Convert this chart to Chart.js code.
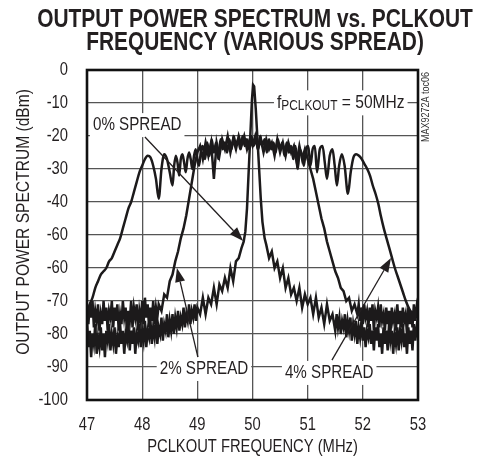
<!DOCTYPE html>
<html>
<head>
<meta charset="utf-8">
<script src="https://cdn.jsdelivr.net/npm/chart.js@4.4.1/dist/chart.umd.min.js"></script>
<style>
html, body { margin: 0; padding: 0; background: #fff; overflow: hidden; }
#wrap { width: 484px; height: 463px; }
</style>
</head>
<body>
<div id="wrap"><canvas id="spectrum" width="484" height="463"></canvas></div>
<script>
const FONT = "'Liberation Sans', Arial, sans-serif";
const NARROW = 0.82; // the datasheet uses a narrow face; squeeze Arial-metric text to match
const INK = '#231f20';

// tick labels as printed on the original (the -50 line is labelled -60 there)
const xTickLabels = ['47', '48', '49', '50', '51', '52', '53'];
const yTickLabels = ['-100', '-90', '-80', '-70', '-60', '-60', '-40', '-30', '-20', '-10', '0'];

// 0% spread : single tone at 50MHz
const freq0 = [
  47.000, 47.025, 47.050, 47.075, 47.100, 47.125, 47.150, 47.175, 47.200, 47.225,
  47.250, 47.275, 47.300, 47.325, 47.350, 47.375, 47.400, 47.425, 47.450, 47.475,
  47.500, 47.525, 47.550, 47.575, 47.600, 47.625, 47.650, 47.675, 47.700, 47.725,
  47.750, 47.775, 47.800, 47.825, 47.850, 47.875, 47.900, 47.925, 47.950, 47.975,
  48.000, 48.025, 48.050, 48.075, 48.100, 48.125, 48.150, 48.175, 48.200, 48.225,
  48.250, 48.275, 48.300, 48.325, 48.350, 48.375, 48.400, 48.425, 48.450, 48.475,
  48.500, 48.525, 48.550, 48.575, 48.600, 48.625, 48.650, 48.675, 48.700, 48.725,
  48.750, 48.775, 48.800, 48.825, 48.850, 48.875, 48.900, 48.925, 48.950, 48.975,
  49.000,
  49.05, 49.10, 49.15, 49.20, 49.25, 49.30, 49.35, 49.40, 49.45, 49.50,
  49.55, 49.60, 49.65, 49.70, 49.75, 49.80,
  49.84, 49.87, 49.90, 49.93, 49.96, 49.99, 50.01, 50.03, 50.06, 50.09, 50.12, 50.15, 50.18, 50.22,
  50.25, 50.30, 50.35, 50.40, 50.45, 50.50, 50.55, 50.60, 50.65, 50.70,
  50.75, 50.80, 50.85, 50.90, 50.95, 51.00, 51.05, 51.10, 51.15, 51.20,
  51.25, 51.30, 51.35, 51.40, 51.45, 51.50,
  51.525, 51.550, 51.575, 51.600, 51.625, 51.650, 51.675, 51.700, 51.725, 51.750,
  51.775, 51.800, 51.825, 51.850, 51.875, 51.900, 51.925, 51.950, 51.975, 52.000,
  52.025, 52.050, 52.075, 52.100, 52.125, 52.150, 52.175, 52.200, 52.225, 52.250,
  52.275, 52.300, 52.325, 52.350, 52.375, 52.400, 52.425, 52.450, 52.475, 52.500,
  52.525, 52.550, 52.575, 52.600, 52.625, 52.650, 52.675, 52.700, 52.725, 52.750,
  52.775, 52.800, 52.825, 52.850, 52.875, 52.900, 52.925, 52.950, 52.975, 53.000
];
const level0 = [
  -76, -84, -79, -87, -80, -83, -77, -86, -81, -84,
  -78, -85, -80, -87, -79, -82, -77, -85, -80, -83,
  -78, -86, -81, -84, -77, -83, -79, -86, -80, -82,
  -77, -85, -79, -83, -78, -86, -80, -82, -77, -84,
  -79, -82, -76, -84, -79, -81, -76, -83, -78, -81,
  -75, -83, -78, -80, -75, -82, -77, -79, -74, -81,
  -76, -79, -74, -80, -75, -78, -73, -79, -75, -77,
  -72, -78, -74, -76, -71, -77, -73, -75, -71, -76,
  -72,
  -74, -69, -74, -69, -71, -66, -71, -65, -67, -63,
  -66, -60, -64, -58, -57, -54,
  -52, -49, -42, -31, -20, -9, -4.5, -5, -12, -21, -30, -39, -46, -51,
  -53, -57, -55, -60, -58, -63, -60, -66, -63, -68,
  -66, -70, -66, -72, -68, -71, -69, -74, -69, -75,
  -72, -77, -71, -76, -74, -79,
  -74, -78, -75, -80, -76, -78, -74, -81, -76, -79,
  -75, -82, -77, -80, -76, -83, -78, -81, -76, -82,
  -78, -84, -79, -81, -77, -83, -79, -85, -78, -82,
  -77, -84, -80, -86, -78, -83, -79, -85, -77, -82,
  -79, -86, -80, -83, -78, -85, -79, -82, -77, -84,
  -80, -86, -78, -83, -79, -85, -77, -82, -78, -81
];

// 2% spread
const freq2 = [
  47.000, 47.025, 47.050, 47.075, 47.100, 47.125, 47.150, 47.175, 47.200, 47.225,
  47.250, 47.275, 47.300, 47.325, 47.350, 47.375, 47.400, 47.425, 47.450, 47.475,
  47.500, 47.525, 47.550, 47.575, 47.600, 47.625, 47.650, 47.675, 47.700, 47.725,
  47.750, 47.775, 47.800, 47.825, 47.850, 47.875, 47.900, 47.925, 47.950, 47.975,
  48.000, 48.025, 48.050, 48.075, 48.100, 48.125, 48.150, 48.175, 48.200, 48.225,
  48.250, 48.275, 48.300,
  48.35, 48.40, 48.45, 48.50, 48.55, 48.60, 48.65, 48.70, 48.75, 48.80, 48.85, 48.90, 48.95,
  49.00, 49.05, 49.10, 49.15, 49.20, 49.25, 49.30, 49.35, 49.40, 49.45,
  49.50, 49.55, 49.60, 49.65, 49.70, 49.75, 49.80, 49.85, 49.90, 49.95,
  50.00, 50.05, 50.10, 50.15, 50.20, 50.25, 50.30, 50.35, 50.40, 50.45,
  50.50, 50.55, 50.60, 50.65, 50.70, 50.75, 50.80, 50.85, 50.90, 50.95,
  51.00,
  51.05, 51.10, 51.15, 51.20, 51.25, 51.30, 51.35, 51.40, 51.45, 51.50,
  51.55, 51.60, 51.65, 51.70, 51.75, 51.80, 51.85,
  51.900, 51.925, 51.950, 51.975, 52.000, 52.025, 52.050, 52.075, 52.100, 52.125,
  52.150, 52.175, 52.200, 52.225, 52.250, 52.275, 52.300, 52.325, 52.350, 52.375,
  52.400, 52.425, 52.450, 52.475, 52.500, 52.525, 52.550, 52.575, 52.600, 52.625,
  52.650, 52.675, 52.700, 52.725, 52.750, 52.775, 52.800, 52.825, 52.850, 52.875,
  52.900, 52.925, 52.950, 52.975, 53.000
];
const level2 = [
  -72, -77, -71, -75, -70, -78, -73, -76, -71, -79,
  -74, -77, -70, -76, -72, -79, -73, -75, -70, -78,
  -72, -76, -71, -79, -74, -77, -70, -75, -72, -80,
  -73, -76, -70, -78, -72, -75, -71, -79, -73, -76,
  -70, -77, -69, -75, -71, -78, -72, -76, -70, -77,
  -72, -75, -71,
  -73, -68, -69, -64, -62, -58, -55, -51, -48, -44, -39, -34, -29,
  -25, -23, -27, -22, -26, -22, -33, -22, -26, -21,
  -24, -20, -25, -21, -24, -20, -23, -20, -24, -21,
  -23, -20, -24, -21, -25, -21, -24, -22, -26, -21,
  -25, -22, -26, -22, -25, -23, -28, -23, -27, -24,
  -27,
  -30, -33, -37, -41, -45, -48, -52, -55, -58, -61,
  -63, -66, -67, -70, -69, -73, -71,
  -74, -71, -76, -72, -77, -71, -75, -73, -78, -72,
  -76, -71, -79, -73, -75, -72, -78, -71, -76, -74,
  -79, -72, -77, -73, -80, -72, -76, -74, -79, -71,
  -77, -73, -78, -72, -76, -74, -80, -72, -77, -73,
  -78, -71, -76, -72, -75
];

// 4% spread
const freq4 = [
  47.00, 47.05, 47.10, 47.15, 47.20, 47.25, 47.30, 47.35, 47.40, 47.45,
  47.50, 47.55, 47.60, 47.65, 47.70, 47.75, 47.80, 47.85, 47.90, 47.95,
  48.00, 48.05, 48.10, 48.15, 48.20, 48.25, 48.30, 48.35, 48.40, 48.45,
  48.50, 48.55, 48.58, 48.61, 48.64, 48.67, 48.70, 48.73, 48.76, 48.79,
  48.82, 48.85, 48.88, 48.91, 48.94, 48.97, 49.00, 49.03, 49.07, 49.10,
  49.14, 49.18, 49.22, 49.26, 49.30, 49.34, 49.38, 49.42, 49.46, 49.50,
  49.54, 49.58, 49.62, 49.66, 49.70, 49.74, 49.78, 49.82, 49.86, 49.90,
  49.94, 49.98, 50.02, 50.06, 50.10, 50.14, 50.18, 50.22, 50.26, 50.30,
  50.34, 50.38, 50.42, 50.46, 50.50, 50.54, 50.58, 50.62, 50.66, 50.70,
  50.74, 50.78, 50.82, 50.86, 50.90, 50.93, 50.97, 51.01, 51.05, 51.09,
  51.13, 51.17, 51.22, 51.27, 51.31, 51.35, 51.40, 51.45, 51.49, 51.53,
  51.57, 51.62, 51.67, 51.73, 51.78, 51.83, 51.88, 51.93, 51.98, 52.03,
  52.08, 52.13, 52.18, 52.23, 52.28, 52.33, 52.38, 52.43, 52.48, 52.53,
  52.58, 52.63, 52.68, 52.73, 52.78, 52.83, 52.88, 52.93, 53.00
];
const level4 = [
  -74, -71, -69, -66, -64, -62, -61, -60, -58, -57,
  -55, -53, -51, -48, -45, -42, -40, -37, -34, -31,
  -29, -27, -26, -26.5, -29, -33, -39, -30, -25.5, -27,
  -31, -35, -29, -26, -28, -32, -27, -25.5, -28, -31,
  -27, -25, -27, -30, -26, -24, -27, -29, -24, -23,
  -27, -22, -26, -21, -25, -22, -27, -21, -24, -22,
  -25, -21, -24, -20, -23, -21, -24, -20, -23, -21,
  -24, -20, -23, -21, -24, -20, -23, -21, -25, -21,
  -24, -22, -25, -21, -24, -22, -26, -22, -25, -23,
  -27, -23, -30, -24, -26, -29, -24, -23, -29, -24,
  -23, -31, -24, -23, -28, -33, -26, -24, -29, -35,
  -29, -25.5, -29, -37.5, -31, -26.5, -25.5, -26, -27, -28.5,
  -30, -32, -35, -37.5, -40.5, -44.5, -48, -51, -54, -57,
  -60, -62.5, -65, -67.5, -70, -72, -73.5, -74.5, -75
];

// callouts, in data units (MHz, dBm)
const notes = [
  { text: '0% SPREAD', x: 47.91, y: -16.7, from: [48.05, -20.3], to: [49.83, -51.8] },
  { text: '2% SPREAD', x: 49.12, y: -90.6, from: [49.01, -87.0], to: [48.63, -60.0] },
  { text: '4% SPREAD', x: 51.39, y: -91.8, from: [51.44, -87.9], to: [52.51, -57.0] }
];
const toneNote = { main: 'f', sub: 'PCLKOUT', rest: ' = 50MHz', x: 51.6, y: -9.8 };

function toPoints(fs, ls) {
  return fs.map((f, i) => ({ x: f, y: ls[i] }));
}

function toneParts(ctx) {
  ctx.font = `19px ${FONT}`;
  const wf = ctx.measureText(toneNote.main).width;
  const wr = ctx.measureText(toneNote.rest).width;
  ctx.font = `14.5px ${FONT}`;
  const ws = ctx.measureText(toneNote.sub).width;
  return { wf, ws, wr, total: wf + ws + wr };
}

function arrow(ctx, x0, y0, x1, y1) {
  const ang = Math.atan2(y1 - y0, x1 - x0);
  const len = 14, half = 5;
  const bx = x1 - len * Math.cos(ang), by = y1 - len * Math.sin(ang);
  ctx.beginPath();
  ctx.moveTo(x0, y0);
  ctx.lineTo(bx, by);
  ctx.stroke();
  ctx.beginPath();
  ctx.moveTo(x1, y1);
  ctx.lineTo(bx + half * Math.sin(ang), by - half * Math.cos(ang));
  ctx.lineTo(bx - half * Math.sin(ang), by + half * Math.cos(ang));
  ctx.closePath();
  ctx.fill();
}

// every fillText / measureText on this chart goes through a horizontal squeeze
const narrowTextPlugin = {
  id: 'narrowText',
  beforeInit(chart) {
    const ctx = chart.ctx;
    const fill = ctx.fillText.bind(ctx);
    const measure = ctx.measureText.bind(ctx);
    ctx.fillText = (text, x, y) => {
      ctx.save();
      ctx.translate(x, y);
      ctx.scale(NARROW, 1);
      fill(text, 0, 0);
      ctx.restore();
    };
    ctx.measureText = text => {
      const m = measure(text);
      return {
        width: m.width * NARROW,
        actualBoundingBoxAscent: m.actualBoundingBoxAscent,
        actualBoundingBoxDescent: m.actualBoundingBoxDescent
      };
    };
  }
};

const decorPlugin = {
  id: 'decor',
  beforeDatasetsDraw(chart) {
    // white boxes break the grid behind the callout texts
    const { ctx, scales: { x, y } } = chart;
    ctx.save();
    ctx.fillStyle = '#fff';
    ctx.font = `18.5px ${FONT}`;
    notes.forEach(n => {
      const w = ctx.measureText(n.text).width + 6;
      ctx.fillRect(x.getPixelForValue(n.x) - w / 2, y.getPixelForValue(n.y) - 12, w, 24);
    });
    const p = toneParts(ctx);
    ctx.fillRect(x.getPixelForValue(toneNote.x) - p.total / 2 - 3, y.getPixelForValue(toneNote.y) - 12, p.total + 6, 25);
    ctx.restore();
  },
  afterDatasetsDraw(chart) {
    const { ctx, chartArea: a, scales: { x, y } } = chart;
    ctx.save();
    // frame
    ctx.strokeStyle = '#111';
    ctx.lineWidth = 2.6;
    ctx.strokeRect(a.left, a.top, a.right - a.left, a.bottom - a.top);

    // callouts
    ctx.fillStyle = INK;
    ctx.strokeStyle = INK;
    ctx.lineWidth = 1.3;
    ctx.textAlign = 'center';
    ctx.textBaseline = 'middle';
    ctx.font = `18.5px ${FONT}`;
    notes.forEach(n => {
      ctx.fillText(n.text, x.getPixelForValue(n.x), y.getPixelForValue(n.y));
      arrow(ctx, x.getPixelForValue(n.from[0]), y.getPixelForValue(n.from[1]),
        x.getPixelForValue(n.to[0]), y.getPixelForValue(n.to[1]));
    });

    // f(PCLKOUT) = 50MHz
    const p = toneParts(ctx);
    let tx = x.getPixelForValue(toneNote.x) - p.total / 2;
    const ty = y.getPixelForValue(toneNote.y);
    ctx.textAlign = 'left';
    ctx.font = `19px ${FONT}`;
    ctx.fillText(toneNote.main, tx, ty);
    tx += p.wf;
    ctx.font = `14.5px ${FONT}`;
    ctx.fillText(toneNote.sub, tx, ty + 4);
    tx += p.ws;
    ctx.font = `19px ${FONT}`;
    ctx.fillText(toneNote.rest, tx, ty);
    ctx.restore();
  },
  afterDraw(chart) {
    const { ctx } = chart;
    ctx.save();
    ctx.fillStyle = INK;
    ctx.textAlign = 'center';
    ctx.textBaseline = 'middle';
    ctx.font = `bold 25.5px ${FONT}`;
    ctx.fillText('OUTPUT POWER SPECTRUM vs. PCLKOUT', 255, 20);
    ctx.fillText('FREQUENCY (VARIOUS SPREAD)', 255, 43);

    ctx.save();
    ctx.translate(24, 222);
    ctx.rotate(-Math.PI / 2);
    ctx.font = `19px ${FONT}`;
    ctx.fillText('OUTPUT POWER SPECTRUM (dBm)', 0, 0);
    ctx.restore();

    ctx.save();
    ctx.translate(426, 107);
    ctx.rotate(-Math.PI / 2);
    ctx.fillStyle = '#333';
    ctx.font = `11px ${FONT}`;
    ctx.fillText('MAX9272A toc06', 0, 0);
    ctx.restore();
    ctx.restore();
  }
};

const lineStyle = {
  borderColor: '#1c1a1b',
  borderWidth: 2.5,
  pointRadius: 0,
  fill: false
};

new Chart(document.getElementById('spectrum'), {
  type: 'line',
  data: {
    datasets: [
      { ...lineStyle, label: '0% SPREAD', data: toPoints(freq0, level0), tension: 0 },
      { ...lineStyle, label: '2% SPREAD', data: toPoints(freq2, level2), tension: 0 },
      { ...lineStyle, label: '4% SPREAD', data: toPoints(freq4, level4), cubicInterpolationMode: 'monotone' }
    ]
  },
  options: {
    responsive: false,
    animation: false,
    layout: { padding: { top: 70, right: 66, bottom: 0, left: 0 } },
    plugins: {
      legend: { display: false },
      tooltip: { enabled: false }
    },
    scales: {
      x: {
        type: 'linear',
        min: 47,
        max: 53,
        afterFit: s => { s.height = 63; },
        grid: { color: '#555', lineWidth: 1.3, drawTicks: false },
        border: { display: false },
        ticks: {
          stepSize: 1,
          padding: 14,
          color: INK,
          font: { family: FONT, size: 18 },
          callback: (v, i) => xTickLabels[i]
        },
        title: {
          display: true,
          text: 'PCLKOUT FREQUENCY (MHz)',
          color: INK,
          font: { family: FONT, size: 18 },
          padding: { top: 0, bottom: 5 }
        }
      },
      y: {
        min: -100,
        max: 0,
        afterFit: s => { s.width = 87; },
        grid: { color: '#555', lineWidth: 1.3, drawTicks: false },
        border: { display: false },
        ticks: {
          stepSize: 10,
          padding: 19,
          color: INK,
          font: { family: FONT, size: 18 },
          callback: (v, i) => yTickLabels[i]
        }
      }
    }
  },
  plugins: [narrowTextPlugin, decorPlugin]
});
</script>
</body>
</html>
